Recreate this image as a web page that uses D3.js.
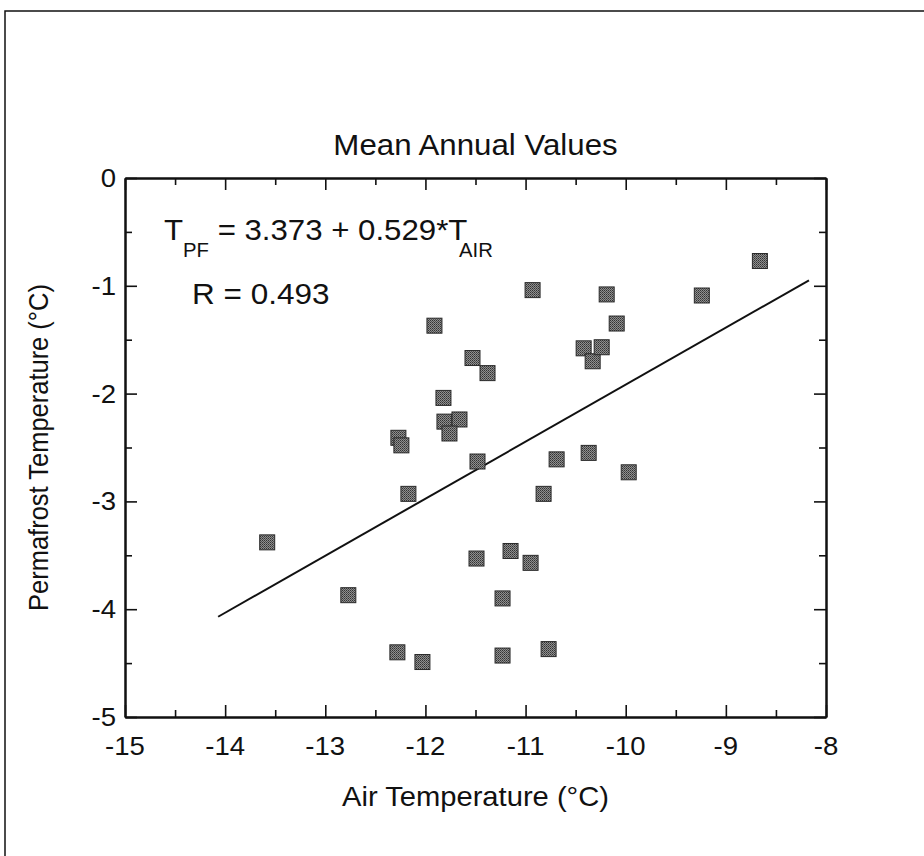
<!DOCTYPE html>
<html><head><meta charset="utf-8">
<script src="https://cdn.jsdelivr.net/npm/d3@7"></script>
<style>body{margin:0;background:#fff}svg{display:block}text{font-family:"Liberation Sans",Arial,sans-serif;fill:#111}</style>
</head><body>
<svg id="c" width="924" height="856"></svg>
<script>
// Data
const airTemp = [-13.58,-12.77,-12.28,-12.03,-12.27,-12.24,-12.17,-11.91,-11.82,-11.81,-11.66,-11.76,-11.53,-11.38,-11.48,-11.49,-11.15,-11.23,-11.23,-10.93,-10.95,-10.82,-10.77,-10.69,-10.37,-10.42,-10.33,-10.24,-10.19,-10.09,-9.97,-9.24,-8.66];
const pfTemp  = [-3.38,-3.87,-4.40,-4.49,-2.41,-2.48,-2.93,-1.37,-2.04,-2.26,-2.24,-2.37,-1.67,-1.81,-2.63,-3.53,-3.46,-3.90,-4.43,-1.04,-3.57,-2.93,-4.37,-2.61,-2.55,-1.58,-1.70,-1.57,-1.08,-1.35,-2.73,-1.09,-0.77];
const fitIntercept = 3.373, fitSlope = 0.529;
const fitRange = [-14.07, -8.17];
const xTicks = [-15,-14,-13,-12,-11,-10,-9,-8];
const yTicks = [0,-1,-2,-3,-4,-5];
const xMinor = [-14.5,-13.5,-12.5,-11.5,-10.5,-9.5,-8.5];
const yMinor = [-0.5,-1.5,-2.5,-3.5,-4.5];

const svg = d3.select("#c");
const L=125,R=826,T=178,B=717;
const x = d3.scaleLinear().domain([-15,-8]).range([L,R]);
const y = d3.scaleLinear().domain([-5,0]).range([B,T]);
const SX = 1.06; // horizontal stretch of the lettering

// outer frame
svg.append("rect").attr("x",5).attr("y",11).attr("width",1000).attr("height",1000)
  .attr("fill","none").attr("stroke","#111").attr("stroke-width",1.5);

// dither pattern
const defs = svg.append("defs");
const pat = defs.append("pattern").attr("id","dith").attr("width",2).attr("height",2).attr("patternUnits","userSpaceOnUse");
pat.append("rect").attr("width",2).attr("height",2).attr("fill","#8f8f8f");
pat.append("rect").attr("width",1).attr("height",1).attr("fill","#333");
pat.append("rect").attr("x",1).attr("y",1).attr("width",1).attr("height",1).attr("fill","#505050");

// axes (all four sides, inward ticks)
const tickMaj=12, tickMin=7;
function addAxis(axisFn, scale, ticks, minor, transform){
  const g = svg.append("g").attr("transform",transform);
  g.call(axisFn(scale).tickValues(ticks).tickSize(-tickMaj).tickSizeOuter(0).tickFormat(""));
  const g2 = svg.append("g").attr("transform",transform);
  g2.call(axisFn(scale).tickValues(minor).tickSize(-tickMin).tickSizeOuter(0).tickFormat(""));
  [g,g2].forEach(s=>{s.selectAll("line").attr("stroke","#111").attr("stroke-width",1.6);s.select(".domain").attr("stroke","#111").attr("stroke-width",2);});
  return g;
}
addAxis(d3.axisBottom, x, xTicks, xMinor, `translate(0,${B})`);
addAxis(d3.axisTop, x, xTicks, xMinor, `translate(0,${T})`);
addAxis(d3.axisLeft, y, yTicks, yMinor, `translate(${L},0)`);
addAxis(d3.axisRight, y, yTicks, yMinor, `translate(${R},0)`);

// helper for stretched horizontal text
function stext(px, py, size, anchor, str){
  return svg.append("text").attr("transform",`translate(${px},${py}) scale(${SX},1)`)
    .attr("text-anchor",anchor).attr("font-size",size).text(str);
}

// tick labels
const fmt = d=> String(d);
xTicks.forEach(d=>stext(x(d), B+38, 26, "middle", fmt(d)));
yTicks.forEach(d=>stext(L-9, y(d)+9, 26, "end", fmt(d)));

// axis titles
stext((L+R)/2, 806, 27.5, "middle", "Air Temperature (°C)");
svg.append("text").attr("transform",`translate(48,${(T+B)/2}) scale(1.08,1) rotate(-90)`)
  .attr("text-anchor","middle").attr("font-size",25.5).text("Permafrost Temperature (°C)");
stext((L+R)/2, 155, 29.5, "middle", "Mean Annual Values");

// regression line
svg.append("path").datum(fitRange)
  .attr("d", d3.line().x(d=>x(d)).y(d=>y(fitIntercept+fitSlope*d)))
  .attr("stroke","#111").attr("stroke-width",2).attr("fill","none");

// points
const pts = airTemp.map((a,i)=>({a, p:pfTemp[i]}));
const s=15;
svg.append("g").selectAll("rect").data(pts).join("rect")
  .attr("x",d=>x(d.a)-s/2).attr("y",d=>y(d.p)-s/2).attr("width",s).attr("height",s)
  .attr("fill","url(#dith)").attr("stroke","#2a2a2a").attr("stroke-width",1);

// equation
const eq = svg.append("text").attr("transform",`translate(164,240) scale(1.04,1)`).attr("font-size",30);
eq.append("tspan").text("T");
eq.append("tspan").attr("font-size",19.5).attr("dy",17).text("PF");
eq.append("tspan").attr("dy",-17).text(" = 3.373 + 0.529*T");
eq.append("tspan").attr("font-size",19.5).attr("dy",17).attr("dx",-8).text("AIR");
svg.append("text").attr("transform",`translate(192,304) scale(1.05,1)`).attr("font-size",30).text("R = 0.493");
</script>
</body></html>
